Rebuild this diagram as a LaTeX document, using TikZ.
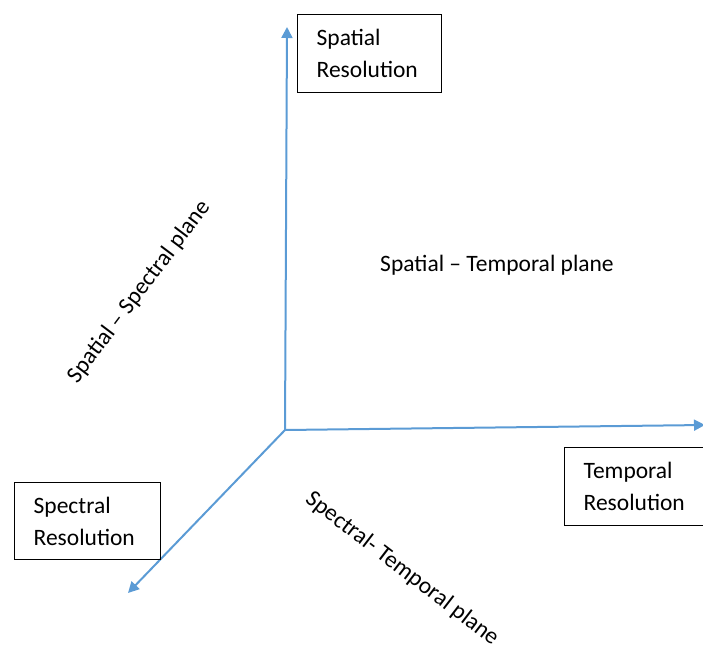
\documentclass[tikz,border=0pt]{standalone}
\usepackage{fontspec}
\setmainfont{Carlito}
\usetikzlibrary{arrows.meta}
\begin{document}
\begin{tikzpicture}[x=1pt,y=-1pt,
  axis/.style={draw={rgb,255:red,91;green,155;blue,213},line width=2pt,-{Triangle[width=11pt,length=11pt]}},
  resbox/.style={draw=black,line width=1.3pt,anchor=north west,align=left,inner xsep=19pt,inner ysep=0pt,font=\fontsize{23.5}{32}\selectfont},
  planelbl/.style={font=\fontsize{23.5}{28}\selectfont,inner sep=0pt}]
\useasboundingbox (0,0) rectangle (703,650);
\coordinate (O) at (285,430);
\coordinate (up) at (287,27);
\coordinate (right) at (705,425);
\coordinate (dl) at (128,593);
\draw[axis] (O) -- (up);
\draw[axis] (O) -- (right);
\draw[axis] (O) -- (dl);
\node[resbox,minimum width=144pt,minimum height=78pt,text width=106pt] (spatial) at (297,14) {Spatial\\Resolution};
\node[resbox,minimum width=140pt,minimum height=78pt,text width=102pt] (temporal) at (564,447) {Temporal\\Resolution};
\node[resbox,minimum width=146pt,minimum height=77pt,text width=108pt] (spectral) at (14,482) {Spectral\\Resolution};
\node[planelbl] (st) at (497,265) {Spatial – Temporal plane};
\node[planelbl,rotate=53] (ss) at (139,292) {Spatial – Spectral plane};
\node[planelbl,rotate=-37.5] (spt) at (402,569) {Spectral- Temporal plane};
\end{tikzpicture}
\end{document}
